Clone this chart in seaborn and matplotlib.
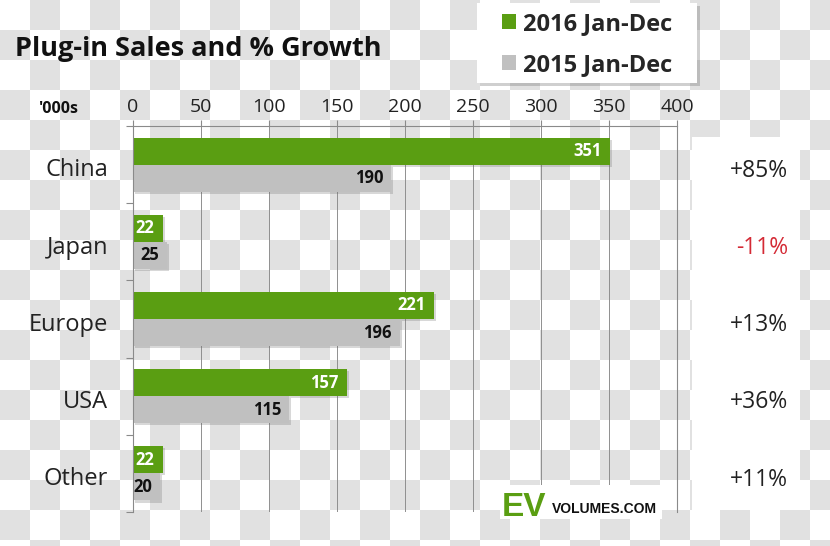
import numpy as np
import pandas as pd
import matplotlib
matplotlib.use("Agg")
import matplotlib.pyplot as plt
import matplotlib.patheffects as pe
from matplotlib.patches import Rectangle
from matplotlib.transforms import blended_transform_factory, ScaledTranslation
import seaborn as sns

regions = ["China", "Japan", "Europe", "USA", "Other"]
sales_2016 = [351, 22, 221, 157, 22]
sales_2015 = [190, 25, 196, 115, 20]
growth = ["+85%", "-11%", "+13%", "+36%", "+11%"]
series = ["2016 Jan-Dec", "2015 Jan-Dec"]
x_ticks = [0, 50, 100, 150, 200, 250, 300, 350, 400]

GREEN = "#5a9e12"
GREY = "#c0c0c0"

df = pd.DataFrame({
    "region": regions * 2,
    "value": sales_2016 + sales_2015,
    "series": [series[0]] * len(regions) + [series[1]] * len(regions),
})

sns.set_theme(style="white")
plt.rcParams["font.family"] = ["Open Sans", "DejaVu Sans"]

W, H = 830, 546
fig = plt.figure(figsize=(W / 100, H / 100), dpi=100)

# transparent-style checkerboard background
sq = 30
yy, xx = np.mgrid[0:H, 0:W]
checker = ((xx // sq + yy // sq) % 2).astype(float)
img = np.ones((H, W, 3))
img[checker == 1] = np.array([225, 225, 225]) / 255.0
fig.figimage(img, xo=0, yo=0, origin="upper", zorder=-10)
fig.patch.set_alpha(0)

ax = fig.add_axes([133 / W, 1 - 512 / H, 544 / W, 386 / H])
ax.set_facecolor("none")

sns.barplot(data=df, x="value", y="region", hue="series", order=regions,
            hue_order=series, palette=[GREEN, GREY], orient="h", width=0.7,
            saturation=1, ax=ax, legend=True)

shadow = [pe.SimplePatchShadow(offset=(1.5, -1.5), shadow_rgbFace="#666666", alpha=0.25), pe.Normal()]
for p in ax.patches:
    p.set_path_effects(shadow)
    p.set_edgecolor("none")

for cont, vals, col in zip(ax.containers, [sales_2016, sales_2015], ["white", "#111111"]):
    for bar, v in zip(cont, vals):
        y = bar.get_y() + bar.get_height() / 2
        ax.annotate(str(v), (v, y), xytext=(-6, 0), textcoords="offset points",
                    ha="right", va="center", fontsize=12, fontweight="bold", color=col)

ax.set_xlim(0, 400)
ax.set_ylim(4.5, -0.5)
ax.xaxis.tick_top()
ax.set_xticks(x_ticks)
ax.set_xticklabels([str(t) for t in x_ticks], fontsize=14, color="#222222")
ax.tick_params(axis="x", which="major", length=4, width=0.8, color="#8a8a8a", pad=3.5, top=True, bottom=False)
ax.set_yticks(range(len(regions)))
ax.set_yticklabels(regions, fontsize=17, color="#222222")
ax.tick_params(axis="y", which="major", length=0, pad=18)
shift = ScaledTranslation(0, -2 / 72, fig.dpi_scale_trans)
for lbl in ax.get_yticklabels():
    lbl.set_transform(lbl.get_transform() + shift)
ax.set_yticks(np.arange(-0.5, len(regions), 1.0), minor=True)
ax.tick_params(axis="y", which="minor", length=5, width=0.8, color="#8a8a8a", left=True)
ax.set_xlabel("")
ax.set_ylabel("")
ax.grid(axis="x", color="#8f8f8f", lw=0.7)
ax.set_axisbelow(True)
for s in ["top", "left", "right"]:
    ax.spines[s].set_visible(True)
    ax.spines[s].set_color("#8a8a8a")
    ax.spines[s].set_linewidth(0.8)
ax.spines["bottom"].set_visible(False)

# legend box + legend
fig.patches.append(Rectangle((477 / W, 1 - 83 / H), 220 / W, 80 / H, transform=fig.transFigure,
                             facecolor="white", edgecolor="none", zorder=1,
                             path_effects=[pe.SimplePatchShadow(offset=(2, -2), shadow_rgbFace="#777777",
                                                                alpha=0.35), pe.Normal()]))
handles, labels = ax.get_legend_handles_labels()
ax.get_legend().remove()
leg = fig.legend(handles, labels, loc="center left", bbox_to_anchor=(502 / W, 1 - 44.5 / H),
                 frameon=False, handlelength=0.6, handleheight=0.6,
                 handletextpad=0.3, labelspacing=0.72, borderpad=0, borderaxespad=0,
                 prop={"family": "Open Sans", "weight": "bold", "size": 17})
leg.set_zorder(3)
for h in leg.legend_handles:
    h.set_path_effects([])

fig.text(15 / W, 1 - 49 / H, "Plug-in Sales and % Growth", fontsize=19.5, fontweight="bold",
         va="center", ha="left", color="#111111")
fig.text(59 / W, 1 - 109 / H, "'000s", fontsize=11.5, fontweight="bold", va="center", ha="center",
         color="#111111")

# growth box
fig.patches.append(Rectangle((692 / W, 1 - 510 / H), 108 / W, 373 / H, transform=fig.transFigure,
                             facecolor="white", edgecolor="none", zorder=0))
tr = blended_transform_factory(fig.transFigure, ax.transData)
for i, g in enumerate(growth):
    fig.text(788 / W, i + 0.08, g, transform=tr, ha="right", va="center", fontsize=16.5,
             color="#d42a35" if g.startswith("-") else "#222222")

# logo
fig.patches.append(Rectangle((500 / W, 1 - 519 / H), 162 / W, 34 / H, transform=fig.transFigure,
                             facecolor="white", edgecolor="none", zorder=1))
fig.text(502 / W, 1 - 516 / H, "EV", fontsize=24, fontweight="bold", color=GREEN,
         family="Liberation Sans", ha="left", va="baseline", zorder=2)
fig.text(657 / W, 1 - 513 / H, "VOLUMES.COM", fontsize=10, fontweight="bold", color="#111111",
         family="Liberation Sans", ha="right", va="baseline", zorder=2)

fig.savefig("out.png", dpi=100)
